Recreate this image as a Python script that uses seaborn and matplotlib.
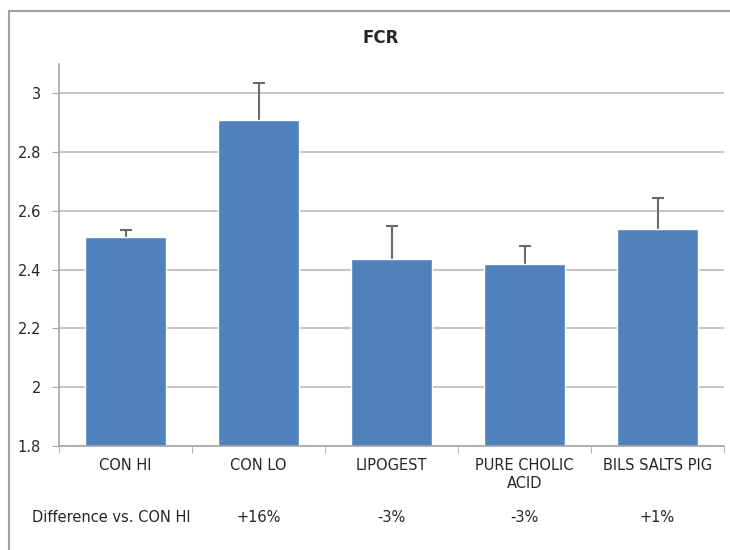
import matplotlib
matplotlib.use("Agg")
import matplotlib.pyplot as plt
import matplotlib.patches as mpatches
import matplotlib.transforms as mtransforms
import numpy as np
import seaborn as sns

# values
categories = ["CON HI", "CON LO", "LIPOGEST", "PURE CHOLIC\nACID", "BILS SALTS PIG"]
fcr_means = [2.51, 2.91, 2.435, 2.42, 2.54]
fcr_err_up = [0.025, 0.125, 0.115, 0.06, 0.105]
diff_labels = ["", "+16%", "-3%", "-3%", "+1%"]
yticks = [1.8, 2.0, 2.2, 2.4, 2.6, 2.8, 3.0]
ytick_labels = ["1.8", "2", "2.2", "2.4", "2.6", "2.8", "3"]

sns.set_style("white")
plt.rcParams["font.family"] = ["DejaVu Sans"]

bar_color = "#4F81BD"
text_color = "#262626"

fig = plt.figure(figsize=(7.3, 5.5), dpi=100)
ax = fig.add_axes([59 / 730, 1 - 446 / 550, (724 - 59) / 730, (446 - 64) / 550])

sns.barplot(x=categories, y=fcr_means, color=bar_color, saturation=1,
            width=0.61, ax=ax, zorder=2)
# symmetric bars drawn behind the columns, so only the upper half shows
ax.errorbar(range(len(categories)), fcr_means, yerr=fcr_err_up,
            fmt="none", ecolor="#6b6b6b", elinewidth=1.5, capsize=4,
            capthick=1.5, zorder=1.5)

ax.set_ylim(1.8, 3.1)
ax.set_xlim(-0.5, len(categories) - 0.5)
ax.set_yticks(yticks)
ax.set_yticklabels(ytick_labels)
ax.yaxis.grid(True, color="#BFBFBF", linewidth=1.3, zorder=0)
ax.set_axisbelow(True)

for side in ["top", "right"]:
    ax.spines[side].set_visible(False)
for side in ["left", "bottom"]:
    ax.spines[side].set_color("#A6A6A6")
    ax.spines[side].set_linewidth(1.2)

ax.tick_params(axis="y", length=5, color="#A6A6A6", labelsize=10.5,
               labelcolor=text_color, pad=8, left=True)
ax.tick_params(axis="x", which="major", length=0, labelsize=10.5,
               labelcolor=text_color, pad=9)
ax.set_xticks(np.arange(-0.5, len(categories), 1), minor=True)
ax.tick_params(axis="x", which="minor", length=5, color="#A6A6A6", bottom=True)
ax.set_xlabel("")
ax.set_ylabel("")

# difference row under the categories
trans = mtransforms.blended_transform_factory(ax.transData, fig.transFigure)
for i, lab in enumerate(diff_labels):
    if lab:
        ax.text(i, 1 - 517 / 550, lab, transform=trans, ha="center", va="center",
                fontsize=10.5, color=text_color)
fig.text(32 / 730, 1 - 517 / 550, "Difference vs. CON HI", ha="left", va="center",
         fontsize=10.5, color=text_color)

fig.text(381 / 730, 1 - 38 / 550, "FCR", ha="center", va="center",
         fontsize=12, fontweight="bold", color=text_color)

# chart-area frame
fig.patches.append(mpatches.Rectangle((9 / 730, -0.1), 1.2, (550 - 11) / 550 + 0.1,
                                      transform=fig.transFigure, fill=False,
                                      edgecolor="#a0a0a0", linewidth=1.5))

fig.savefig("out.png", dpi=100)
